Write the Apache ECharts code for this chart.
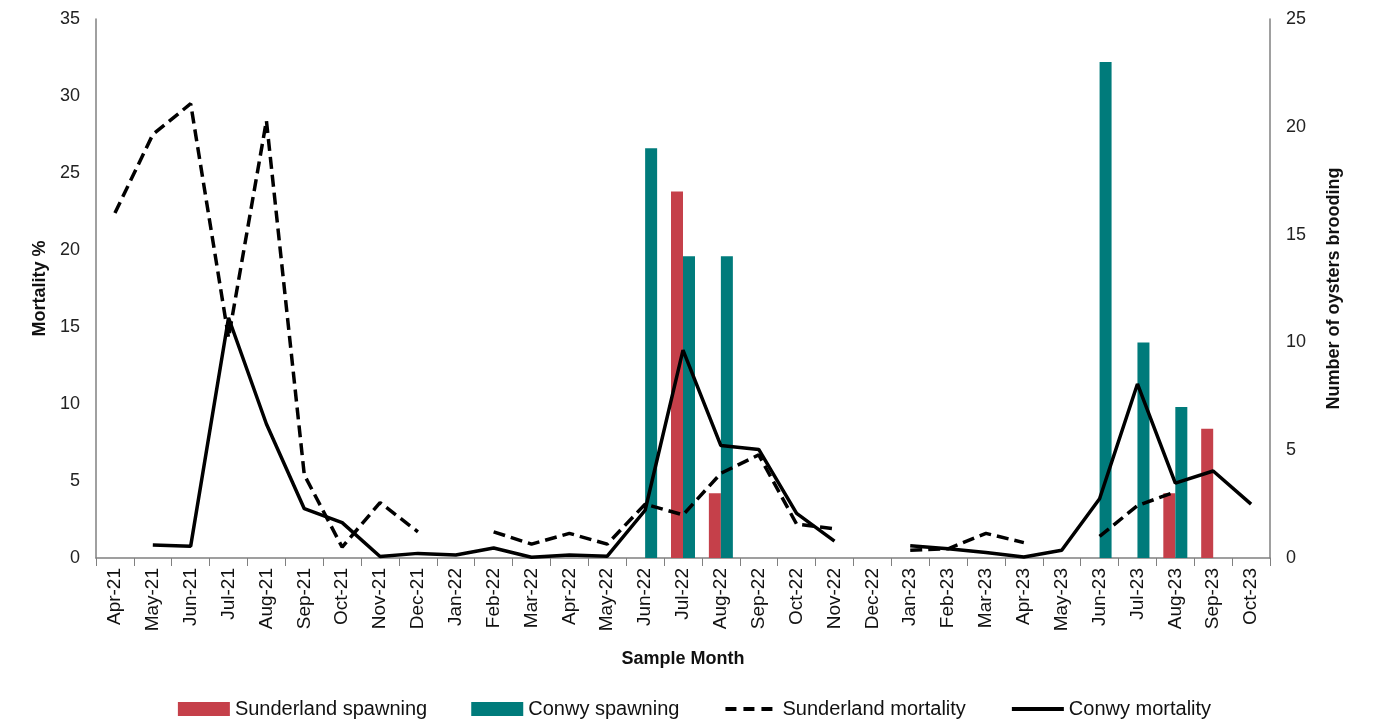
<!DOCTYPE html>
<html>
<head>
<meta charset="utf-8">
<script src="https://cdn.jsdelivr.net/npm/echarts@6/dist/echarts.min.js"></script>
<style>html,body{margin:0;padding:0;background:#fff;}#c{width:1389px;height:724px;}</style>
</head>
<body>
<div id="c"></div>
<script>
const categories = ['Apr-21','May-21','Jun-21','Jul-21','Aug-21','Sep-21','Oct-21','Nov-21','Dec-21','Jan-22','Feb-22','Mar-22','Apr-22','May-22','Jun-22','Jul-22','Aug-22','Sep-22','Oct-22','Nov-22','Dec-22','Jan-23','Feb-23','Mar-23','Apr-23','May-23','Jun-23','Jul-23','Aug-23','Sep-23','Oct-23'];
const sunderlandSpawning = [null,null,null,null,null,null,null,null,null,null,null,null,null,null,null,17,3,null,null,null,null,null,null,null,null,null,null,null,3,6,null];
const conwySpawning = [null,null,null,null,null,null,null,null,null,null,null,null,null,null,19,14,14,null,null,null,null,null,null,null,null,null,23,10,7,null,null];
const sunderlandMortality = [22.4,27.5,29.5,14.3,28.4,5.4,0.7,3.6,1.7,null,1.7,0.9,1.6,0.9,3.5,2.8,5.5,6.7,2.2,1.9,null,0.5,0.6,1.6,1.0,null,1.4,3.4,4.3,null,null];
const conwyMortality = [null,0.85,0.77,15.6,8.7,3.2,2.3,0.1,0.3,0.2,0.65,0.05,0.2,0.12,3.1,13.5,7.3,7.05,2.9,1.1,null,0.8,0.6,0.35,0.07,0.5,3.85,11.3,4.86,5.65,3.5];
const leftTicks = {min:0, max:35, interval:5};
const rightTicks = {min:0, max:25, interval:5};

const RED = '#C5404A', TEAL = '#007B7B';
const font = 'Liberation Sans';
const chart = echarts.init(document.getElementById('c'), null, {renderer:'canvas'});
chart.setOption({
  animation:false,
  backgroundColor:'#fff',
  textStyle:{fontFamily:font},
  grid:{left:96,right:119,top:19,bottom:166,containLabel:false},
  legend:{
    bottom:0, left:'center', itemGap:44, itemWidth:52, itemHeight:14,
    textStyle:{fontSize:20,color:'#111',fontFamily:font},
    data:[
      {name:'Sunderland spawning',icon:'rect'},
      {name:'Conwy spawning',icon:'rect'},
      {name:'Sunderland mortality',itemStyle:{opacity:0},lineStyle:{width:4,type:[11,7],color:'#000'}},
      {name:'Conwy mortality',itemStyle:{opacity:0},lineStyle:{width:4,color:'#000'}}
    ]
  },
  xAxis:{
    type:'category', data:categories, boundaryGap:true,
    name:'Sample Month', nameLocation:'middle', nameGap:92,
    nameTextStyle:{fontSize:18,fontWeight:'bold',color:'#111'},
    axisLine:{lineStyle:{color:'#808080',width:1.5}},
    axisTick:{show:true,length:8,alignWithLabel:false,lineStyle:{color:'#808080'}},
    axisLabel:{rotate:90,fontSize:19,color:'#111',interval:0,margin:10}
  },
  yAxis:[
    {type:'value',min:leftTicks.min,max:leftTicks.max,interval:leftTicks.interval,
     name:'Mortality %',nameLocation:'middle',nameGap:45,
     nameTextStyle:{fontSize:18,fontWeight:'bold',color:'#111'},
     axisLine:{show:true,lineStyle:{color:'#808080',width:1.5}},
     axisTick:{show:false},splitLine:{show:false},
     axisLabel:{fontSize:18,color:'#222',margin:16}},
    {type:'value',min:rightTicks.min,max:rightTicks.max,interval:rightTicks.interval,position:'right',
     name:'Number of oysters brooding',nameLocation:'middle',nameGap:55,
     nameTextStyle:{fontSize:18,fontWeight:'bold',color:'#111'},
     axisLine:{show:true,lineStyle:{color:'#808080',width:1.5}},
     axisTick:{show:false},splitLine:{show:false},
     axisLabel:{fontSize:18,color:'#222',margin:16}}
  ],
  series:[
    {name:'Sunderland spawning',type:'bar',yAxisIndex:1,data:sunderlandSpawning,barWidth:12,barGap:'0%',itemStyle:{color:RED}},
    {name:'Conwy spawning',type:'bar',yAxisIndex:1,data:conwySpawning,barWidth:12,barGap:'0%',itemStyle:{color:TEAL}},
    {name:'Sunderland mortality',type:'line',yAxisIndex:0,data:sunderlandMortality,connectNulls:false,symbol:'none',
     lineStyle:{color:'#000',width:3.5,type:[12,6]},itemStyle:{color:'#000'}},
    {name:'Conwy mortality',type:'line',yAxisIndex:0,data:conwyMortality,connectNulls:false,symbol:'none',
     lineStyle:{color:'#000',width:3.5},itemStyle:{color:'#000'}}
  ]
});
</script>
</body>
</html>
